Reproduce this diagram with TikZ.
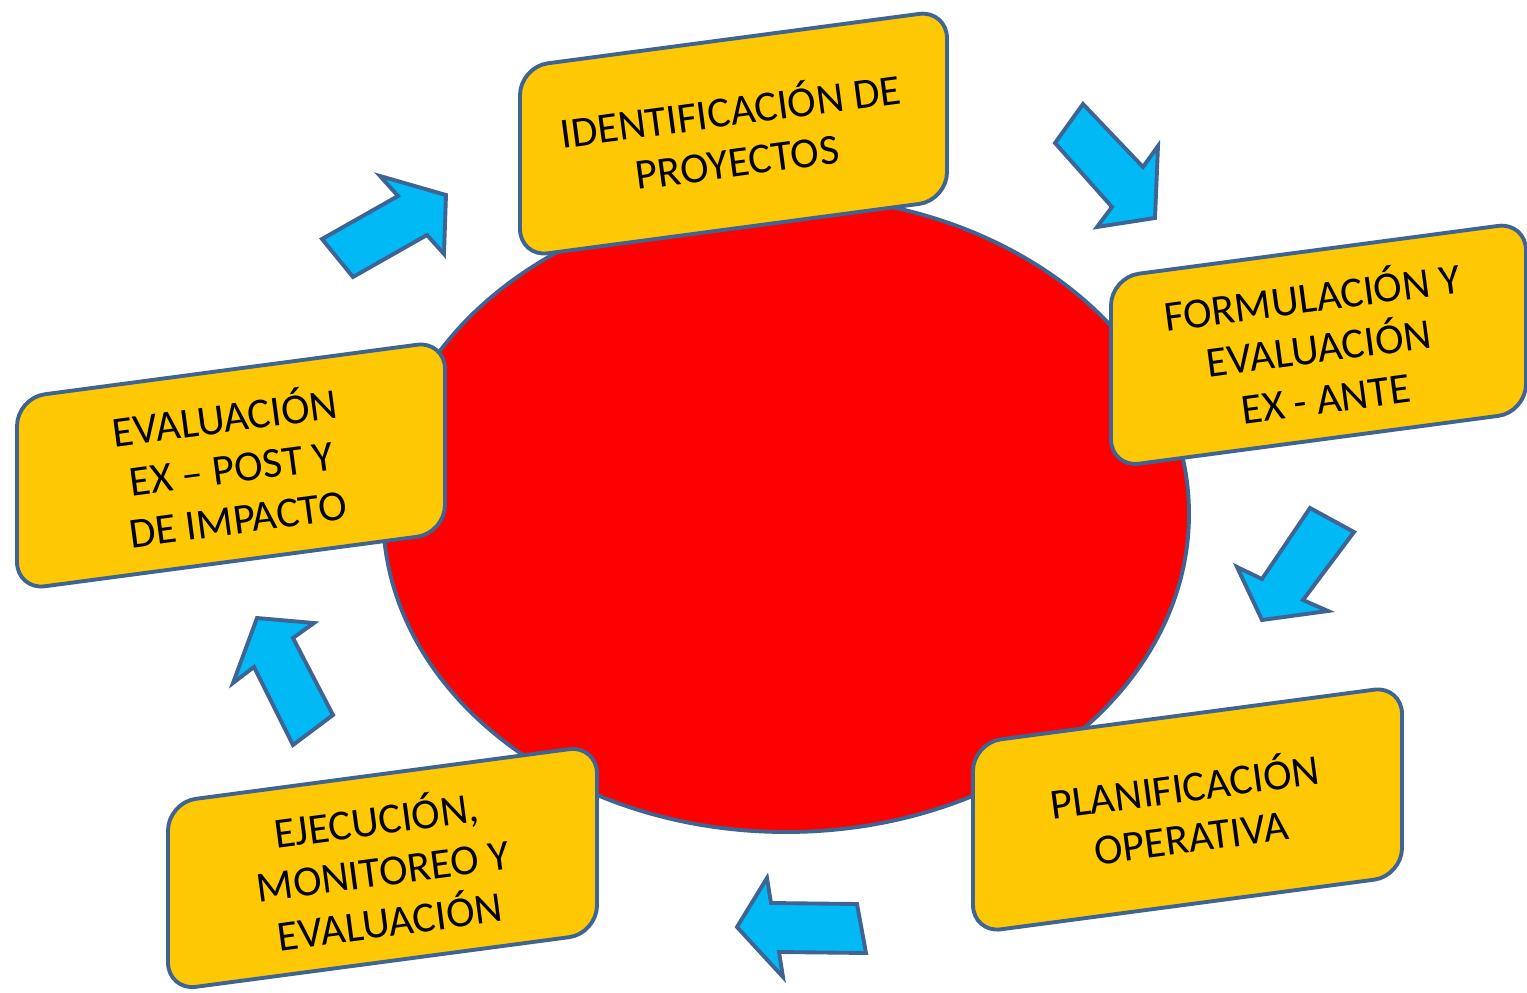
\documentclass[tikz,border=0pt]{standalone}
\usepackage{fontspec}
\setmainfont{Carlito}
\usepackage{tikz}
\usetikzlibrary{arrows.meta}
\definecolor{goldbox}{RGB}{255,200,5}
\definecolor{steelline}{RGB}{62,100,148}
\definecolor{skyarrow}{RGB}{0,185,245}
\tikzset{>=stealth}
\tikzset{%
    stagebox/.style={draw=steelline,fill=goldbox,line width=1.1pt,rounded corners=0.28cm},
    stagetext/.style={align=center,rotate=7.6,font=\fontsize{12.2}{14.5}\selectfont},
    blockarrow/.style={draw=steelline,fill=skyarrow,line width=1.1pt,line join=miter}
}

\begin{document}
\begin{tikzpicture}
    \useasboundingbox (0,0) rectangle (15.27,9.92);
    \filldraw[draw=steelline,fill=red,line width=1.1pt] (7.86,4.78) ellipse (4.03 and 3.18);
    \draw[stagebox,shift={(7.335,8.584)},yslant=0.133] (-2.135,-0.95) rectangle (2.135,0.95);
    \node[stagetext] (ident) at (7.335,8.584) {IDENTIFICACIÓN DE\\PROYECTOS};
    \draw[stagebox,shift={(13.185,6.472)},yslant=0.133] (-2.075,-0.95) rectangle (2.075,0.95);
    \node[stagetext] (formul) at (13.185,6.472) {FORMULACIÓN Y\\EVALUACIÓN\\EX - ANTE};
    \draw[stagebox,shift={(11.875,1.825)},yslant=0.133] (-2.145,-0.95) rectangle (2.145,0.95);
    \node[stagetext] (planif) at (11.875,1.825) {PLANIFICACIÓN\\OPERATIVA};
    \draw[stagebox,shift={(3.825,1.24)},yslant=0.133] (-2.145,-0.94) rectangle (2.145,0.94);
    \node[stagetext] (ejec) at (3.825,1.24) {EJECUCIÓN,\\MONITOREO Y\\EVALUACIÓN};
    \draw[stagebox,shift={(2.31,5.265)},yslant=0.133] (-2.14,-0.96) rectangle (2.14,0.96);
    \node[stagetext] (expost) at (2.31,5.265) {EVALUACIÓN\\EX -- POST Y\\DE IMPACTO};
    \draw[blockarrow] (3.22,7.53) -- (3.98,7.96) -- (3.80,8.16) -- (4.46,7.97) -- (4.44,7.38) -- (4.27,7.57) -- (3.53,7.15) -- cycle;
    \draw[blockarrow] (10.83,8.88) -- (11.43,8.25) -- (11.58,8.46) -- (11.55,7.74) -- (10.97,7.65) -- (11.12,7.85) -- (10.55,8.49) -- cycle;
    \draw[blockarrow] (13.10,4.84) -- (13.54,4.60) -- (13.03,3.92) -- (13.28,3.81) -- (12.62,3.72) -- (12.37,4.25) -- (12.62,4.13) -- cycle;
    \draw[blockarrow] (8.57,0.88) -- (8.66,0.39) -- (7.79,0.40) -- (7.83,0.15) -- (7.37,0.65) -- (7.67,1.14) -- (7.71,0.89) -- cycle;
    \draw[blockarrow] (2.57,3.74) -- (3.14,3.69) -- (2.93,3.54) -- (3.33,2.77) -- (2.93,2.47) -- (2.54,3.25) -- (2.33,3.09) -- cycle;
\end{tikzpicture}
\end{document}
